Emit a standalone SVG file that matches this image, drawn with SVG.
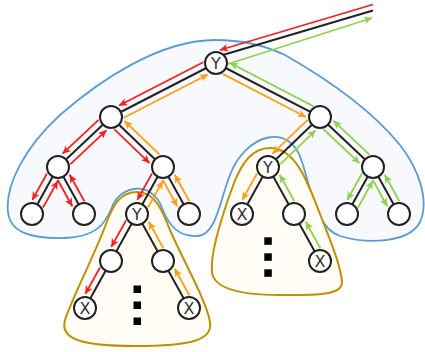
<svg xmlns="http://www.w3.org/2000/svg" width="425" height="352" viewBox="0 0 425 352">
<style>
.region-blue{fill:#f7f9fd;stroke:#5b9bd5;stroke-width:1.8}
.region-gold{fill:#fffdf6;stroke:#bf9000;stroke-width:2}
.e{stroke:#222;stroke-width:2;fill:none}
.a{stroke-width:1.8;fill:none}
.r{stroke:#f52020;marker-end:url(#mr)}
.o{stroke:#f9a11b;marker-end:url(#mo)}
.g{stroke:#92d050;marker-end:url(#mg)}
.n circle{fill:#fff;stroke:#222;stroke-width:2}
.n text{font-family:"DejaVu Sans","Liberation Sans",sans-serif;font-size:16px;fill:#333;text-anchor:middle;dominant-baseline:central}
.dot{fill:#000}
</style>
<defs>
<marker id="mr" viewBox="-9 -5 10 10" refX="0" refY="0" markerWidth="10" markerHeight="10" markerUnits="userSpaceOnUse" orient="auto"><path d="M0.5,0 L-8,-3.8 L-6,0 L-8,3.8 Z" fill="#f52020"/></marker>
<marker id="mo" viewBox="-9 -5 10 10" refX="0" refY="0" markerWidth="10" markerHeight="10" markerUnits="userSpaceOnUse" orient="auto"><path d="M0.5,0 L-8,-3.8 L-6,0 L-8,3.8 Z" fill="#f9a11b"/></marker>
<marker id="mg" viewBox="-9 -5 10 10" refX="0" refY="0" markerWidth="10" markerHeight="10" markerUnits="userSpaceOnUse" orient="auto"><path d="M0.5,0 L-8,-3.8 L-6,0 L-8,3.8 Z" fill="#92d050"/></marker>
</defs>

<g id="regions">
<path class="region-blue" d="M215,40 C160,40 100,80 60,115 C25,147 5,185 8,212 C10,232 30,239 65,238 C95,237 105,225 112,207 C120,185 152,180 162,208 C170,228 180,237 198,236 C216,235 220,200 230,175 C245,135 290,120 302,162 C312,192 316,228 340,236 C370,245 410,242 420,222 C430,200 418,168 400,145 C370,108 320,75 285,55 C262,44 240,40 215,40 Z"/>
<path class="region-gold" d="M137,192 C120,192 113,205 106,224 C96,252 72,298 65,320 C60,338 78,346 135,346 C192,346 213,340 210,322 C207,302 182,258 170,230 C162,210 155,192 137,192 Z"/>
<path class="region-gold" d="M270,148 C252,148 242,163 234,183 C224,210 210,252 212,272 C214,292 250,295 280,295 C312,295 343,296 342,282 C341,266 330,240 320,214 C308,183 296,148 270,148 Z"/>
</g>

<g id="connectors">
<g>
<line class="e" x1="373" y1="10.5" x2="216" y2="57"/>
<line class="a r" x1="373" y1="4.5" x2="220" y2="50"/>
<line class="a g" x1="228" y1="64" x2="372" y2="18"/>
</g>
<g transform="translate(216,63) rotate(152.78)">
<line class="e" x1="0" y1="0" x2="118.07" y2="0"/>
<line class="a r" x1="11" y1="6.5" x2="105.57" y2="6.5"/>
<line class="a o" x1="107.07" y1="-6.5" x2="12.5" y2="-6.5"/>
</g>
<g transform="translate(216,63) rotate(27.43)">
<line class="e" x1="0" y1="0" x2="117.18" y2="0"/>
<line class="a o" x1="11" y1="6.5" x2="104.68" y2="6.5"/>
<line class="a g" x1="106.18" y1="-6.5" x2="12.5" y2="-6.5"/>
</g>
<g transform="translate(111,117) rotate(136.67)">
<line class="e" x1="0" y1="0" x2="72.86" y2="0"/>
<line class="a r" x1="11" y1="6.5" x2="60.36" y2="6.5"/>
<line class="a r" x1="61.86" y1="-6.5" x2="12.5" y2="-6.5"/>
</g>
<g transform="translate(111,117) rotate(43.88)">
<line class="e" x1="0" y1="0" x2="72.14" y2="0"/>
<line class="a r" x1="11" y1="6.5" x2="59.64" y2="6.5"/>
<line class="a o" x1="61.14" y1="-6.5" x2="12.5" y2="-6.5"/>
</g>
<g transform="translate(320,117) rotate(136.12)">
<line class="e" x1="0" y1="0" x2="72.14" y2="0"/>
<line class="a o" x1="11" y1="6.5" x2="59.64" y2="6.5"/>
<line class="a g" x1="61.14" y1="-6.5" x2="12.5" y2="-6.5"/>
</g>
<g transform="translate(320,117) rotate(43.33)">
<line class="e" x1="0" y1="0" x2="72.86" y2="0"/>
<line class="a g" x1="11" y1="6.5" x2="60.36" y2="6.5"/>
<line class="a g" x1="61.86" y1="-6.5" x2="12.5" y2="-6.5"/>
</g>
<g transform="translate(58,167) rotate(118.95)">
<line class="e" x1="0" y1="0" x2="53.71" y2="0"/>
<line class="a r" x1="11" y1="6.5" x2="41.21" y2="6.5"/>
<line class="a r" x1="42.71" y1="-6.5" x2="12.5" y2="-6.5"/>
</g>
<g transform="translate(58,167) rotate(61.05)">
<line class="e" x1="0" y1="0" x2="53.71" y2="0"/>
<line class="a r" x1="11" y1="6.5" x2="41.21" y2="6.5"/>
<line class="a r" x1="42.71" y1="-6.5" x2="12.5" y2="-6.5"/>
</g>
<g transform="translate(163,167) rotate(118.95)">
<line class="e" x1="0" y1="0" x2="53.71" y2="0"/>
<line class="a r" x1="11" y1="6.5" x2="41.21" y2="6.5"/>
<line class="a o" x1="42.71" y1="-6.5" x2="12.5" y2="-6.5"/>
</g>
<g transform="translate(163,167) rotate(61.05)">
<line class="e" x1="0" y1="0" x2="53.71" y2="0"/>
<line class="a o" x1="11" y1="6.5" x2="41.21" y2="6.5"/>
<line class="a o" x1="42.71" y1="-6.5" x2="12.5" y2="-6.5"/>
</g>
<g transform="translate(268,167) rotate(118.95)">
<line class="e" x1="0" y1="0" x2="53.71" y2="0"/>
<line class="a o" x1="11" y1="6.5" x2="41.21" y2="6.5"/>
</g>
<g transform="translate(268,167) rotate(61.05)">
<line class="e" x1="0" y1="0" x2="53.71" y2="0"/>
<line class="a g" x1="42.71" y1="-6.5" x2="12.5" y2="-6.5"/>
</g>
<g transform="translate(373,167) rotate(118.95)">
<line class="e" x1="0" y1="0" x2="53.71" y2="0"/>
<line class="a g" x1="11" y1="6.5" x2="41.21" y2="6.5"/>
<line class="a g" x1="42.71" y1="-6.5" x2="12.5" y2="-6.5"/>
</g>
<g transform="translate(373,167) rotate(61.05)">
<line class="e" x1="0" y1="0" x2="53.71" y2="0"/>
<line class="a g" x1="11" y1="6.5" x2="41.21" y2="6.5"/>
<line class="a g" x1="42.71" y1="-6.5" x2="12.5" y2="-6.5"/>
</g>
<g transform="translate(137,214) rotate(118.95)">
<line class="e" x1="0" y1="0" x2="53.71" y2="0"/>
<line class="a r" x1="11" y1="6.5" x2="41.21" y2="6.5"/>
</g>
<g transform="translate(137,214) rotate(61.05)">
<line class="e" x1="0" y1="0" x2="53.71" y2="0"/>
<line class="a o" x1="42.71" y1="-6.5" x2="12.5" y2="-6.5"/>
</g>
<g transform="translate(111,261) rotate(118.95)">
<line class="e" x1="0" y1="0" x2="53.71" y2="0"/>
<line class="a r" x1="11" y1="6.5" x2="41.21" y2="6.5"/>
</g>
<g transform="translate(163,261) rotate(61.05)">
<line class="e" x1="0" y1="0" x2="53.71" y2="0"/>
<line class="a o" x1="42.71" y1="-6.5" x2="12.5" y2="-6.5"/>
</g>
<g transform="translate(294,214) rotate(61.05)">
<line class="e" x1="0" y1="0" x2="53.71" y2="0"/>
<line class="a g" x1="42.71" y1="-6.5" x2="12.5" y2="-6.5"/>
</g>
</g>

<g id="n-root" class="n"><circle cx="216" cy="63" r="11"/><text x="216" y="63.5">Y</text></g>
<g id="n-l1" class="n"><circle cx="111" cy="117" r="11"/></g>
<g id="n-r1" class="n"><circle cx="320" cy="117" r="11"/></g>
<g id="n-ll" class="n"><circle cx="58" cy="167" r="11"/></g>
<g id="n-lr" class="n"><circle cx="163" cy="167" r="11"/></g>
<g id="n-rl" class="n"><circle cx="268" cy="167" r="11"/><text x="268" y="167.5">Y</text></g>
<g id="n-rr" class="n"><circle cx="373" cy="167" r="11"/></g>
<g id="n-lll" class="n"><circle cx="32" cy="214" r="11"/></g>
<g id="n-llr" class="n"><circle cx="84" cy="214" r="11"/></g>
<g id="n-lrl" class="n"><circle cx="137" cy="214" r="11"/><text x="137" y="214.5">Y</text></g>
<g id="n-lrr" class="n"><circle cx="189" cy="214" r="11"/></g>
<g id="n-rll" class="n"><circle cx="242" cy="214" r="11"/><text x="242" y="214.5">X</text></g>
<g id="n-rlr" class="n"><circle cx="294" cy="214" r="11"/></g>
<g id="n-rrl" class="n"><circle cx="347" cy="214" r="11"/></g>
<g id="n-rrr" class="n"><circle cx="399" cy="214" r="11"/></g>
<g id="n-yl" class="n"><circle cx="111" cy="261" r="11"/></g>
<g id="n-yr" class="n"><circle cx="163" cy="261" r="11"/></g>
<g id="n-xl" class="n"><circle cx="85" cy="308" r="11"/><text x="85" y="308.5">X</text></g>
<g id="n-xr" class="n"><circle cx="189" cy="308" r="11"/><text x="189" y="308.5">X</text></g>
<g id="n-xm" class="n"><circle cx="320" cy="261" r="11"/><text x="320" y="261.5">X</text></g>

<g id="ellipsis-left">
<rect class="dot" x="133.5" y="285.5" width="7.5" height="7.5"/>
<rect class="dot" x="133.5" y="301.5" width="7.5" height="7.5"/>
<rect class="dot" x="133.5" y="317.5" width="7.5" height="7.5"/>
</g>
<g id="ellipsis-right">
<rect class="dot" x="264.3" y="237.3" width="7.5" height="7.5"/>
<rect class="dot" x="264.3" y="253.3" width="7.5" height="7.5"/>
<rect class="dot" x="264.3" y="269.3" width="7.5" height="7.5"/>
</g>
</svg>
